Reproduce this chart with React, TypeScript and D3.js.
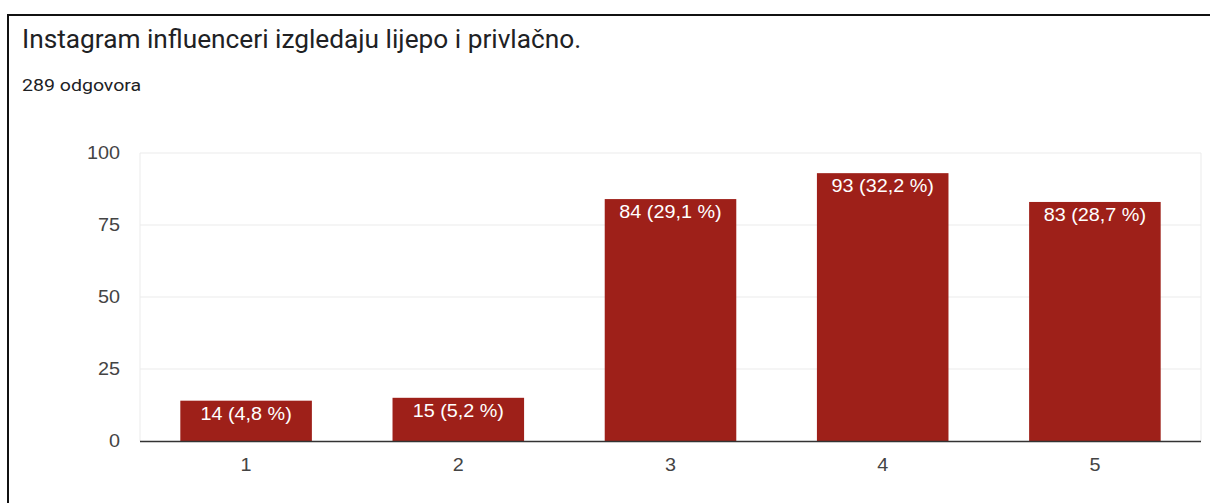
import React from "react";
import * as d3 from "d3";

const categories = ["1", "2", "3", "4", "5"];
const counts = [14, 15, 84, 93, 83];
const percentLabels = ["4,8 %", "5,2 %", "29,1 %", "32,2 %", "28,7 %"];
const yTicks = [0, 25, 50, 75, 100];
const title = "Instagram influenceri izgledaju lijepo i privlačno.";
const subtitle = "289 odgovora";

function SText(props: {
  x: number;
  y: number;
  sx: number;
  size: number;
  family: string;
  fill: string;
  anchor?: "start" | "middle" | "end";
  dy?: string;
  children: React.ReactNode;
}) {
  return (
    <text
      transform={`translate(${props.x},${props.y}) scale(${props.sx},1)`}
      textAnchor={props.anchor || "start"}
      dy={props.dy}
      fontFamily={props.family}
      fontSize={props.size}
      fill={props.fill}
    >
      {props.children}
    </text>
  );
}

export default function App() {
  const W = 1210;
  const H = 503;
  const plotLeft = 140;
  const plotRight = 1201;
  const plotTop = 153;
  const plotBottom = 441;

  const x = d3
    .scaleBand<string>()
    .domain(categories)
    .range([plotLeft, plotRight])
    .paddingInner(0.38)
    .paddingOuter(0.19);
  const y = d3.scaleLinear().domain([0, 100]).range([plotBottom, plotTop]);

  const tickFont = "'Liberation Sans', Arial, sans-serif";
  const roboto = "Roboto, sans-serif";

  return (
    <svg
      width={W}
      height={H}
      style={{ position: "absolute", left: 0, top: 0, background: "#fff" }}
    >
      <rect x={0} y={0} width={W} height={H} fill="#fff" />
      {/* frame */}
      <line x1={8} y1={14} x2={8} y2={H} stroke="#111" strokeWidth={2} />
      <line x1={7} y1={15} x2={W} y2={15} stroke="#111" strokeWidth={2} />

      <SText x={22} y={48} sx={1.05} size={25} family={roboto} fill="#202124">
        {title}
      </SText>
      <SText x={22} y={91} sx={1.15} size={17} family={roboto} fill="#202124">
        {subtitle}
      </SText>

      {/* gridlines */}
      {yTicks.map((t) => (
        <g key={t}>
          {t !== 0 && (
            <line
              x1={plotLeft}
              x2={plotRight}
              y1={y(t)}
              y2={y(t)}
              stroke="#ebebeb"
              strokeWidth={1}
            />
          )}
          <SText
            x={plotLeft - 20}
            y={y(t)}
            dy="0.35em"
            anchor="end"
            sx={1.1}
            size={18}
            family={tickFont}
            fill="#444"
          >
            {t}
          </SText>
        </g>
      ))}
      <line x1={plotLeft} x2={plotLeft} y1={plotTop} y2={plotBottom} stroke="#ebebeb" />
      <line x1={plotRight} x2={plotRight} y1={plotTop} y2={plotBottom} stroke="#ebebeb" />

      {/* bars */}
      {categories.map((c, i) => {
        const bx = x(c)!;
        const by = y(counts[i]);
        return (
          <g key={c}>
            <rect
              x={bx}
              y={by}
              width={x.bandwidth()}
              height={plotBottom - by}
              fill="#9e2019"
            />
            <SText
              x={bx + x.bandwidth() / 2}
              y={by + 19}
              anchor="middle"
              sx={1.1}
              size={18}
              family={tickFont}
              fill="#fff"
            >
              {`${counts[i]} (${percentLabels[i]})`}
            </SText>
            <SText
              x={bx + x.bandwidth() / 2}
              y={plotBottom + 30}
              anchor="middle"
              sx={1.1}
              size={18}
              family={tickFont}
              fill="#444"
            >
              {c}
            </SText>
          </g>
        );
      })}

      {/* baseline */}
      <line
        x1={plotLeft}
        x2={plotRight}
        y1={plotBottom + 0.5}
        y2={plotBottom + 0.5}
        stroke="#333"
        strokeWidth={1.5}
      />
    </svg>
  );
}
